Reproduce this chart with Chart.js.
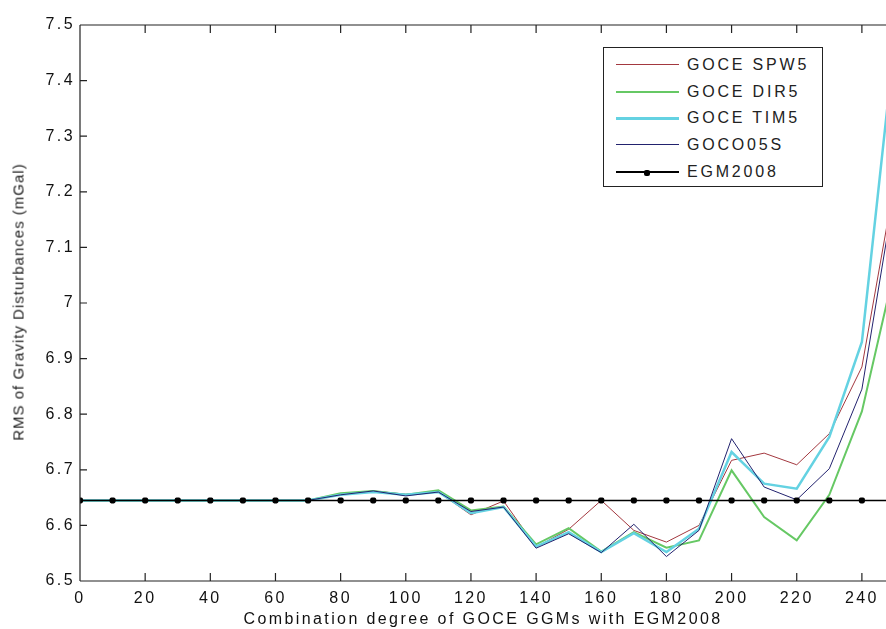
<!DOCTYPE html>
<html>
<head>
<meta charset="utf-8">
<script src="https://cdn.jsdelivr.net/npm/chart.js@4/dist/chart.umd.min.js"></script>
<style>
  html, body { margin: 0; padding: 0; background: #fff; overflow: hidden; }
  #wrap { position: relative; width: 886px; height: 629px; }
  #legend {
    position: absolute; left: 603px; top: 47px; width: 218px; height: 138px;
    border: 1px solid #222; background: #fff;
    font-family: "Liberation Sans", Arial, sans-serif; font-size: 16px; color: #222;
  }
  .row { position: absolute; left: 0; height: 20px; }
  .swatch { position: absolute; left: 12px; top: 9px; width: 63px; }
  .dot { position: absolute; left: 28px; top: -3px; width: 6px; height: 6px; border-radius: 2px; background: #000; }
  .label { position: absolute; left: 83px; top: 0; white-space: nowrap; letter-spacing: 2.8px; line-height: 20px; }
  #ytitle {
    position: absolute; left: 18px; top: 302px; white-space: nowrap;
    transform: translate(-50%, -50%) rotate(-90deg);
    font-family: "Liberation Sans", Arial, sans-serif; font-size: 15px; color: #222; letter-spacing: 1px;
  }
</style>
</head>
<body>
<div id="wrap">
  <canvas id="chart" width="886" height="629"></canvas>
  <div id="ytitle">RMS of Gravity Disturbances (mGal)</div>
  <div id="legend"></div>
</div>
<script>
  // degrees of combination
  const degrees = [0, 10, 20, 30, 40, 50, 60, 70, 80, 90, 100, 110, 120, 130, 140, 150, 160, 170, 180, 190, 200, 210, 220, 230, 240, 250];
  const xTicks = [0, 20, 40, 60, 80, 100, 120, 140, 160, 180, 200, 220, 240];
  const yTicks = [6.5, 6.6, 6.7, 6.8, 6.9, 7, 7.1, 7.2, 7.3, 7.4, 7.5];

  const spw5 = [6.645, 6.645, 6.645, 6.645, 6.645, 6.645, 6.645, 6.645, 6.656, 6.662, 6.656, 6.660, 6.619, 6.644, 6.561, 6.593, 6.645, 6.591, 6.570, 6.600, 6.717, 6.730, 6.709, 6.765, 6.885, 7.216];
  const dir5 = [6.645, 6.645, 6.645, 6.645, 6.645, 6.645, 6.645, 6.645, 6.658, 6.662, 6.655, 6.663, 6.627, 6.634, 6.566, 6.595, 6.553, 6.588, 6.560, 6.573, 6.699, 6.615, 6.573, 6.655, 6.805, 7.060];
  const tim5 = [6.645, 6.645, 6.645, 6.645, 6.645, 6.645, 6.645, 6.645, 6.655, 6.660, 6.655, 6.660, 6.622, 6.633, 6.562, 6.588, 6.552, 6.586, 6.552, 6.594, 6.732, 6.675, 6.666, 6.759, 6.930, 7.470];
  const goco05s = [6.645, 6.645, 6.645, 6.645, 6.645, 6.645, 6.645, 6.645, 6.655, 6.662, 6.653, 6.660, 6.625, 6.633, 6.559, 6.585, 6.551, 6.602, 6.544, 6.591, 6.756, 6.669, 6.646, 6.702, 6.845, 7.200];
  const egm2008 = [6.645, 6.645, 6.645, 6.645, 6.645, 6.645, 6.645, 6.645, 6.645, 6.645, 6.645, 6.645, 6.645, 6.645, 6.645, 6.645, 6.645, 6.645, 6.645, 6.645, 6.645, 6.645, 6.645, 6.645, 6.645, 6.645];

  const series = [
    { name: 'GOCE SPW5', data: spw5, color: '#a3383f', width: 1, order: 5 },
    { name: 'GOCE DIR5', data: dir5, color: '#66c864', width: 2, order: 4 },
    { name: 'GOCE TIM5', data: tim5, color: '#64d2e2', width: 2.5, order: 3 },
    { name: 'GOCO05S', data: goco05s, color: '#22226e', width: 1, order: 2 },
    { name: 'EGM2008', data: egm2008, color: '#000000', width: 1.5, order: 1, marker: true }
  ];

  const FONT = '"Liberation Sans", Arial, sans-serif';

  // matlab style box with inward ticks
  const boxPlugin = {
    id: 'box',
    beforeDraw(chart) {
      chart.ctx.letterSpacing = '2.4px';
    },
    afterDraw(chart) {
      const { ctx, chartArea: a, scales } = chart;
      ctx.save();
      ctx.strokeStyle = '#222';
      ctx.lineWidth = 1.2;
      ctx.beginPath();
      ctx.moveTo(a.left, a.top); ctx.lineTo(a.right, a.top);
      ctx.moveTo(a.left, a.top); ctx.lineTo(a.left, a.bottom);
      ctx.moveTo(a.left, a.bottom); ctx.lineTo(a.right, a.bottom);
      xTicks.forEach(v => {
        const px = scales.x.getPixelForValue(v);
        ctx.moveTo(px, a.bottom); ctx.lineTo(px, a.bottom - 8);
        ctx.moveTo(px, a.top); ctx.lineTo(px, a.top + 8);
      });
      yTicks.forEach(v => {
        const py = scales.y.getPixelForValue(v);
        ctx.moveTo(a.left, py); ctx.lineTo(a.left + 7, py);
      });
      ctx.stroke();
      ctx.restore();
    }
  };

  new Chart(document.getElementById('chart'), {
    type: 'line',
    data: {
      labels: degrees,
      datasets: series.map(s => ({
        label: s.name,
        data: s.data.map((v, i) => ({ x: degrees[i], y: v })),
        borderColor: s.color,
        backgroundColor: s.color,
        borderWidth: s.width,
        order: s.order,
        tension: 0,
        pointRadius: s.marker ? 3.5 : 0,
        pointStyle: s.marker ? 'rectRounded' : 'circle',
        pointBorderWidth: 0
      }))
    },
    options: {
      responsive: false,
      animation: false,
      layout: { autoPadding: false, padding: { left: 0, top: 25, right: 0, bottom: 0 } },
      plugins: {
        legend: { display: false },
        tooltip: { enabled: false }
      },
      scales: {
        x: {
          type: 'linear',
          min: 0,
          max: 247.4,
          afterBuildTicks: scale => { scale.ticks = xTicks.map(v => ({ value: v })); },
          afterFit: scale => { scale.height = 48; scale.paddingRight = 0; scale.paddingLeft = 0; },
          grid: { display: false, drawTicks: false },
          border: { display: false },
          ticks: { color: '#111', font: { family: FONT, size: 16 }, padding: 8, maxRotation: 0 },
          title: {
            display: true,
            text: 'Combination degree of GOCE GGMs with EGM2008',
            color: '#111',
            font: { family: FONT, size: 16 },
            padding: { top: 0, bottom: 0 }
          }
        },
        y: {
          min: 6.5,
          max: 7.5,
          afterBuildTicks: scale => { scale.ticks = yTicks.map(v => ({ value: v })); },
          afterFit: scale => { scale.width = 80; scale.paddingTop = 0; scale.paddingBottom = 0; },
          grid: { display: false, drawTicks: false },
          border: { display: false },
          ticks: {
            color: '#111',
            font: { family: FONT, size: 16 },
            padding: 5,
            callback: v => String(Math.round(v * 10) / 10)
          }
        }
      }
    },
    plugins: [boxPlugin]
  });

  // legend box inside the axes
  const legendEl = document.getElementById('legend');
  series.forEach((s, i) => {
    const row = document.createElement('div');
    row.className = 'row';
    row.style.top = (7 + i * 26.7) + 'px';
    row.style.width = '100%';
    const sw = document.createElement('div');
    sw.className = 'swatch';
    sw.style.borderTop = Math.max(1, Math.round(s.width)) + 'px solid ' + s.color;
    if (s.marker) {
      const d = document.createElement('div');
      d.className = 'dot';
      sw.appendChild(d);
    }
    const lb = document.createElement('div');
    lb.className = 'label';
    lb.textContent = s.name;
    row.appendChild(sw);
    row.appendChild(lb);
    legendEl.appendChild(row);
  });
</script>
</body>
</html>
